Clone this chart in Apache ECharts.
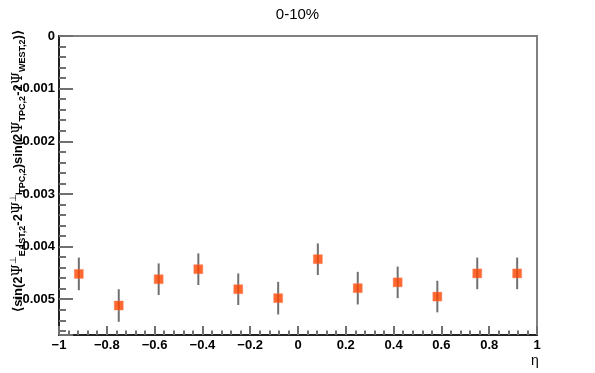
<!DOCTYPE html>
<html>
<head>
<meta charset="utf-8">
<script src="https://cdn.jsdelivr.net/npm/echarts@6/dist/echarts.min.js"></script>
<style>
html,body{margin:0;padding:0;background:#fff;}
#chart{width:595px;height:373px;}
</style>
</head>
<body>
<div id="chart"></div>
<script>
var titleText = '0-10%';
var xAxisName = 'η';
var etaBins = [-0.917, -0.75, -0.583, -0.417, -0.25, -0.083, 0.083, 0.25, 0.417, 0.583, 0.75, 0.917];
var corrValues = [-0.00452, -0.00512, -0.00462, -0.00443, -0.00481, -0.00498, -0.00424, -0.00479, -0.00468, -0.00495, -0.00451, -0.00451];
var corrErrors = [0.00031, 0.00031, 0.0003, 0.0003, 0.0003, 0.00031, 0.0003, 0.00031, 0.0003, 0.0003, 0.0003, 0.0003];
var xRange = [-1, 1];
var yRange = [-0.00568, 0];

var pts = etaBins.map(function (x, i) { return [x, corrValues[i]]; });
var errData = etaBins.map(function (x, i) { return [x, corrValues[i], corrErrors[i]]; });

function fmtMinus(s) { return s.replace('-', '\u2212'); }

var chart = echarts.init(document.getElementById('chart'), null, {renderer: 'canvas'});
var FONT = '"Liberation Sans", Arial, Helvetica, sans-serif';

var yTitle = '{t|\u27E8sin(2}{p|Ψ}{sup|⊥}{sub|EAST,2}{t|-2}{p|Ψ}{sup|⊥}{sub|TPC,2}{t|)sin(2}{p|Ψ}{sub|TPC,2}{t|-2}{p|Ψ}{sub|WEST,2}{t|)\u27E9}';

chart.setOption({
  animation: false,
  backgroundColor: '#ffffff',
  title: {
    text: titleText,
    left: 'center',
    top: 2,
    textStyle: {fontFamily: FONT, fontSize: 15, fontWeight: 'normal', color: '#000'}
  },
  grid: {
    left: 59, right: 58, top: 36, bottom: 38,
    show: true, borderColor: '#808080', borderWidth: 2, backgroundColor: 'transparent'
  },
  xAxis: {
    type: 'value',
    min: xRange[0], max: xRange[1], interval: 0.2,
    axisLine: {show: true, onZero: false, lineStyle: {color: '#222', width: 2}},
    axisTick: {show: true, inside: true, length: 9, lineStyle: {color: '#707070', width: 2}},
    minorTick: {show: true, splitNumber: 5, length: 4.5, lineStyle: {color: '#707070', width: 2}},
    splitLine: {show: false},
    axisLabel: {
      margin: 4,
      fontFamily: FONT, fontSize: 13, fontWeight: 'bold', color: '#000',
      formatter: function (v) {
        var r = Math.round(v * 10) / 10;
        return fmtMinus(String(r));
      }
    }
  },
  yAxis: {
    type: 'value',
    min: yRange[0], max: yRange[1],
    axisLine: {show: true, onZero: false, lineStyle: {color: '#222', width: 2}},
    axisTick: {show: true, inside: true, length: 14, lineStyle: {color: '#707070', width: 2}},
    minorTick: {show: true, splitNumber: 5, length: 7, lineStyle: {color: '#707070', width: 2}},
    splitLine: {show: false},
    axisLabel: {
      margin: 4,
      showMinLabel: false,
      fontFamily: FONT, fontSize: 13, fontWeight: 'bold', color: '#000',
      formatter: function (v) {
        var k = v / 0.001;
        if (Math.abs(k - Math.round(k)) > 1e-6) return '';
        if (Math.round(k) === 0) return '0';
        return fmtMinus(v.toFixed(3));
      }
    }
  },
  graphic: [
    {
      type: 'text',
      x: 18, y: 171,
      rotation: Math.PI / 2,
      style: {
        text: yTitle,
        align: 'center',
        verticalAlign: 'middle',
        fill: '#000',
        rich: {
          t: {fontFamily: FONT, fontSize: 13, fontWeight: 'bold', color: '#000', lineHeight: 18, verticalAlign: 'middle'},
          p: {fontFamily: '"DejaVu Serif", serif', fontSize: 14, fontWeight: 'normal', color: '#000', lineHeight: 18, verticalAlign: 'middle'},
          sub: {fontFamily: FONT, fontSize: 9, fontWeight: 'bold', color: '#000', lineHeight: 9, verticalAlign: 'bottom'},
          sup: {fontFamily: FONT, fontSize: 9, fontWeight: 'normal', color: '#000', lineHeight: 9, verticalAlign: 'top'}
        }
      }
    },
    {
      type: 'text',
      x: 531, y: 354,
      style: {text: xAxisName, fontFamily: FONT, fontSize: 14, fill: '#000'}
    }
  ],
  series: [
    {
      type: 'custom',
      data: errData,
      z: 2,
      renderItem: function (params, api) {
        var x = api.value(0), y = api.value(1), e = api.value(2);
        var p1 = api.coord([x, y - e]);
        var p2 = api.coord([x, y + e]);
        return {
          type: 'line',
          shape: {x1: p1[0], y1: p1[1], x2: p2[0], y2: p2[1]},
          style: {stroke: '#707070', lineWidth: 2}
        };
      }
    },
    {
      type: 'scatter',
      data: pts,
      z: 3,
      symbol: 'rect',
      symbolSize: 9,
      itemStyle: {color: '#ff4500', borderColor: '#ff7a50', borderWidth: 0.5}
    }
  ]
});
</script>
</body>
</html>
